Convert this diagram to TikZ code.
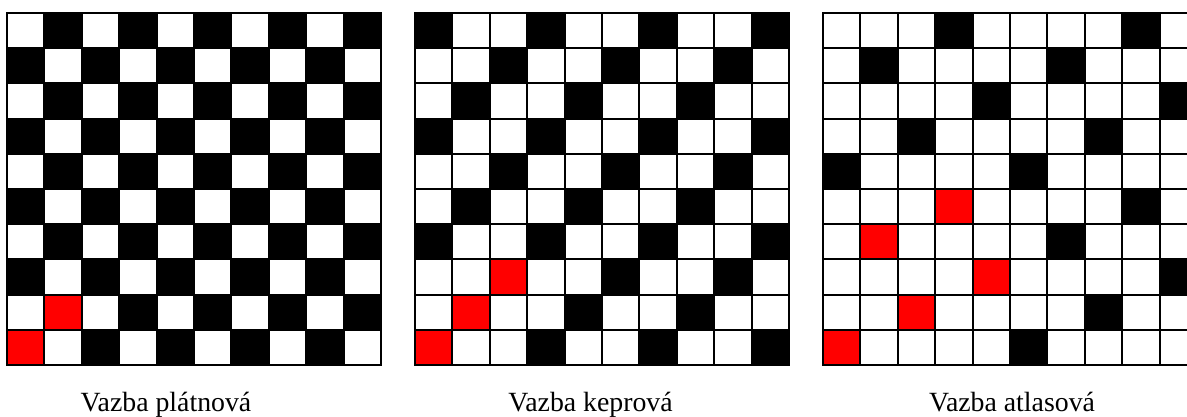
\documentclass[tikz,border=0pt]{standalone}
\usepackage{fontspec}
\setmainfont{Liberation Serif}
\begin{document}
\begin{tikzpicture}[x=1pt,y=-1pt,
  gridline/.style={line width=2pt,line cap=rect,black},
  blackcell/.style={fill=black},
  redcell/.style={fill=red},
  weavelabel/.style={font=\fontsize{27.8}{30}\selectfont,anchor=base,inner sep=0pt}]
\useasboundingbox (0,0) rectangle (1187,416);
\clip (0,0) rectangle (1187,416);
\def\cw{37.4}
\def\ch{35.2}
\def\Y{13}
% grid 1: plain weave
\def\X{7}
\foreach \r in {1,...,10}{\foreach \c in {1,...,10}{
  \pgfmathtruncatemacro\k{mod(\r+\c,2)}
  \ifnum\k=1 \fill[blackcell] ({\X+(\c-1)*\cw},{\Y+(\r-1)*\ch}) rectangle ({\X+\c*\cw},{\Y+\r*\ch}); \fi
}}
\foreach \r/\c in {10/1,9/2}{
  \fill[redcell] ({\X+(\c-1)*\cw},{\Y+(\r-1)*\ch}) rectangle ({\X+\c*\cw},{\Y+\r*\ch});}
\foreach \i in {0,...,10}{
  \draw[gridline] ({\X+\i*\cw},\Y) -- ({\X+\i*\cw},{\Y+10*\ch});
  \draw[gridline] (\X,{\Y+\i*\ch}) -- ({\X+10*\cw},{\Y+\i*\ch});}
% grid 2: twill
\def\X{415}
\foreach \r in {1,...,10}{\foreach \c in {1,...,10}{
  \pgfmathtruncatemacro\k{mod(\r+\c,3)}
  \ifnum\k=2 \fill[blackcell] ({\X+(\c-1)*\cw},{\Y+(\r-1)*\ch}) rectangle ({\X+\c*\cw},{\Y+\r*\ch}); \fi
}}
\foreach \r/\c in {10/1,9/2,8/3}{
  \fill[redcell] ({\X+(\c-1)*\cw},{\Y+(\r-1)*\ch}) rectangle ({\X+\c*\cw},{\Y+\r*\ch});}
\foreach \i in {0,...,10}{
  \draw[gridline] ({\X+\i*\cw},\Y) -- ({\X+\i*\cw},{\Y+10*\ch});
  \draw[gridline] (\X,{\Y+\i*\ch}) -- ({\X+10*\cw},{\Y+\i*\ch});}
% grid 3: satin
\def\X{823}
\foreach \r in {1,...,10}{\foreach \c in {1,...,10}{
  \pgfmathtruncatemacro\k{mod(\c+2*\r+4,5)}
  \ifnum\k=0 \fill[blackcell] ({\X+(\c-1)*\cw},{\Y+(\r-1)*\ch}) rectangle ({\X+\c*\cw},{\Y+\r*\ch}); \fi
}}
\foreach \r/\c in {10/1,9/3,8/5,7/2,6/4}{
  \fill[redcell] ({\X+(\c-1)*\cw},{\Y+(\r-1)*\ch}) rectangle ({\X+\c*\cw},{\Y+\r*\ch});}
\foreach \i in {0,...,10}{
  \draw[gridline] ({\X+\i*\cw},\Y) -- ({\X+\i*\cw},{\Y+10*\ch});
  \draw[gridline] (\X,{\Y+\i*\ch}) -- ({\X+10*\cw},{\Y+\i*\ch});}
% labels
\node[weavelabel] (l1) at (166,411.5) {Vazba plátnová};
\node[weavelabel] (l2) at (590.5,411.5) {Vazba keprová};
\node[weavelabel] (l3) at (1012,411.5) {Vazba atlasová};
\end{tikzpicture}
\end{document}
